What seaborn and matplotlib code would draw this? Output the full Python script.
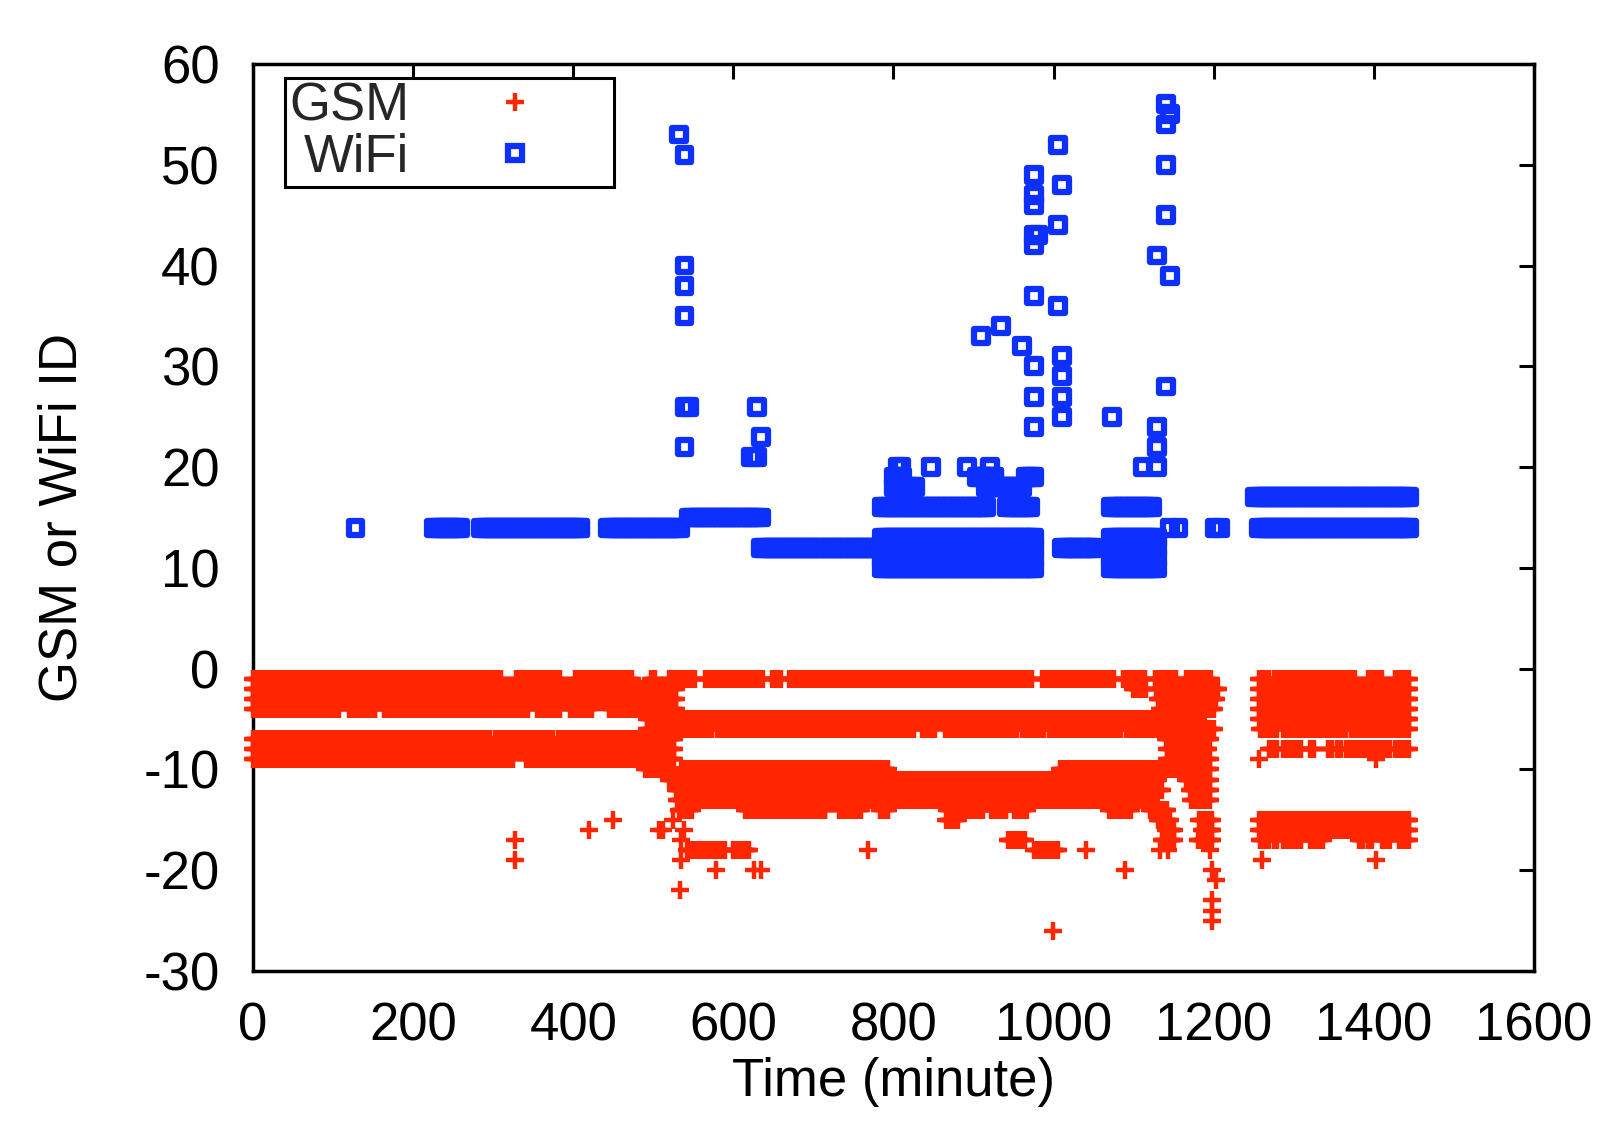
import numpy as np
import pandas as pd
import matplotlib
matplotlib.use("Agg")
import matplotlib.pyplot as plt
import seaborn as sns
from matplotlib.lines import Line2D

# ---------------- data ----------------
# GSM: runs of consecutive minutes observed on one cell ID
gsm_run_id = [-1, -1, -1, -1, -2, -3, -4, -4, -4, -4, -4, -4, -7, -7, -7, -8, -9, -9, -9,
              -1, -1, -1, -1, -1, -1, -5, -6, -6, -6, -6, -6, -6, -6,
              -10, -10, -10, -11, -12, -13,
              -14, -14, -14, -14, -14, -14, -14, -14, -14, -15,
              -18, -18, -17, -18,
              -1, -1, -2, -2, -3, -4, -5, -5, -6, -7, -8, -9, -10, -11, -11, -12, -12, -13,
              -15, -15, -16, -16, -17, -17,
              -1, -1, -1, -1, -2, -3, -4, -5, -6, -6, -6, -6, -6,
              -8, -8, -8, -8, -8, -8, -8, -8, -8, -15, -16,
              -17, -17, -17, -17, -17, -17, -17, -17]
gsm_run_start = [0, 328, 402, 497, 0, 0, 0, 120, 164, 355, 396, 445, 0, 302, 381, 0, 0, 217, 341,
                 519, 564, 648, 670, 986, 1087, 492, 492, 580, 836, 864, 960, 994, 1090,
                 490, 535, 1008, 520, 528, 530,
                 532, 614, 732, 783, 867, 922, 951, 1069, 1120, 866,
                 542, 600, 943, 976,
                 1126, 1165, 1099, 1128, 1130, 1133, 1120, 1162, 1120, 1140, 1142, 1142, 1115, 1125, 1165, 1125, 1170, 1172,
                 1130, 1182, 1140, 1185, 1135, 1180,
                 1257, 1275, 1393, 1426, 1257, 1257, 1257, 1257, 1258, 1286, 1302, 1371, 1398,
                 1269, 1286, 1320, 1343, 1354, 1365, 1382, 1415, 1426, 1257, 1257,
                 1258, 1275, 1286, 1320, 1382, 1393, 1410, 1432]
gsm_run_end = [310, 383, 473, 502, 528, 528, 108, 153, 344, 383, 423, 528, 296, 375, 526, 526, 212, 325, 526,
               552, 637, 659, 973, 1075, 1114, 1120, 573, 825, 852, 954, 988, 1084, 1120,
               525, 793, 1115, 1125, 1125, 1122,
               548, 715, 759, 793, 912, 941, 967, 1097, 1142, 880,
               590, 620, 964, 1005,
               1153, 1197, 1115, 1205, 1203, 1200, 1140, 1180, 1200, 1195, 1193, 1195, 1195, 1130, 1195, 1135, 1195, 1195,
               1145, 1198, 1150, 1198, 1150, 1198,
               1269, 1376, 1410, 1444, 1444, 1444, 1444, 1444, 1279, 1297, 1365, 1393, 1444,
               1279, 1309, 1325, 1348, 1359, 1376, 1410, 1420, 1444, 1444, 1444,
               1269, 1279, 1309, 1336, 1387, 1398, 1420, 1444]
# GSM: isolated observations
gsm_pt_time = [327, 327, 420, 450, 507, 512, 525, 533, 535, 535, 538, 578, 626, 634, 768,
               1040, 1089, 999, 1133, 1143, 1195, 1198, 1203, 1198, 1198, 1198,
               1256, 1403, 1260, 1403]
gsm_pt_id = [-17, -19, -16, -15, -16, -16, -15, -22, -17, -19, -16, -20, -20, -20, -18,
             -18, -20, -26, -18, -18, -18, -20, -21, -23, -24, -25,
             -9, -9, -19, -19]

# WiFi: runs of consecutive minutes on one access point ID
wifi_run_id = [14, 14, 14, 15, 12, 10, 11, 12, 13, 16, 16, 18, 18, 19, 19, 19,
               12, 10, 11, 12, 13, 16, 17, 14]
wifi_run_start = [226, 285, 443, 544, 634, 785, 785, 785, 785, 785, 942, 800, 915, 800, 904, 965,
                  1010, 1072, 1072, 1072, 1072, 1072, 1252, 1257]
wifi_run_end = [258, 409, 533, 634, 785, 975, 975, 975, 975, 915, 971, 827, 960, 811, 926, 976,
                1052, 1129, 1129, 1129, 1129, 1123, 1444, 1444]
# WiFi: isolated observations
wifi_pt_time = [128, 532, 539, 539, 539, 539, 539, 545, 539, 622, 629, 634, 629,
                805, 810, 847, 892, 920, 909, 934, 960,
                976, 976, 976, 976, 980, 976, 976, 976, 976, 976,
                1005, 1005, 1005, 1010, 1010, 1010, 1010, 1010,
                1073, 1111, 1129, 1129, 1129, 1129, 1145, 1156, 1201, 1208,
                1140, 1145, 1140, 1140, 1140, 1145, 1140]
wifi_pt_id = [14, 53, 51, 40, 38, 35, 26, 26, 22, 21, 21, 23, 26,
              20, 20, 20, 20, 20, 33, 34, 32,
              49, 47, 46, 43, 43, 42, 37, 30, 27, 24,
              52, 44, 36, 48, 31, 29, 27, 25,
              25, 20, 20, 22, 24, 41, 14, 14, 14, 14,
              56, 55, 54, 50, 45, 39, 28]

x_ticks = [0, 200, 400, 600, 800, 1000, 1200, 1400, 1600]
y_ticks = [-30, -20, -10, 0, 10, 20, 30, 40, 50, 60]


def expand(ids, starts, ends, step, pt_t, pt_id):
    t_all, i_all = [], []
    for i, a, b in zip(ids, starts, ends):
        t = list(np.arange(a, b + 1, step))
        if t[-1] != b:
            t.append(b)
        t_all += t
        i_all += [i] * len(t)
    t_all += list(pt_t)
    i_all += list(pt_id)
    return pd.DataFrame({"time": t_all, "id": i_all})


gsm = expand(gsm_run_id, gsm_run_start, gsm_run_end, 2, gsm_pt_time, gsm_pt_id)
wifi = expand(wifi_run_id, wifi_run_start, wifi_run_end, 3, wifi_pt_time, wifi_pt_id)

# ---------------- drawing ----------------
sns.set_theme(style="white")
plt.rcParams["font.family"] = ["Liberation Sans", "DejaVu Sans"]

RED = "#ff2600"
BLUE = "#0d30ff"

fig = plt.figure(figsize=(16.06, 11.42), dpi=100)
ax = fig.add_axes([253 / 1606, 1 - 971 / 1142, 1281 / 1606, 907 / 1142])

sns.scatterplot(data=gsm, x="time", y="id", ax=ax, marker="+", color=RED,
                s=169, linewidth=3.2, clip_on=False, legend=False, zorder=3)
sns.scatterplot(data=wifi, x="time", y="id", ax=ax, marker="s", facecolor="none",
                edgecolor=BLUE, s=100, linewidth=4.5, legend=False, zorder=3)

ax.set_xlim(0, 1600)
ax.set_ylim(-30, 60)
ax.set_xticks(x_ticks)
ax.set_yticks(y_ticks)
ax.set_xticklabels([str(v) for v in x_ticks])
ax.set_yticklabels([str(v) for v in y_ticks])
ax.tick_params(axis="both", which="major", direction="in", length=11, width=2.2,
               labelsize=38, colors="black", top=True, right=True, pad=22)
ax.tick_params(axis="y", pad=24)
for sp in ax.spines.values():
    sp.set_visible(True)
    sp.set_color("black")
    sp.set_linewidth(2.5)
ax.grid(False)
ax.set_facecolor("white")

ax.set_xlabel("Time (minute)", fontsize=38, labelpad=4, color="black")
ax.set_ylabel("GSM or WiFi ID", fontsize=38, labelpad=40, color="black")

handles = [
    Line2D([], [], linestyle="none", marker="+", color=RED, markersize=13, markeredgewidth=3.2),
    Line2D([], [], linestyle="none", marker="s", markerfacecolor="none", markeredgecolor=BLUE,
           markersize=10, markeredgewidth=4.5),
]
leg = ax.legend(handles, ["GSM", "WiFi"], loc="upper left", bbox_to_anchor=(0.025, 0.985),
                borderaxespad=0, markerfirst=False, fontsize=38, handlelength=3.6,
                handletextpad=0.2, borderpad=0.08, labelspacing=0.02, fancybox=False,
                frameon=True, edgecolor="black", framealpha=1)
leg.get_frame().set_linewidth(2.2)
leg.set_zorder(5)

fig.savefig("out.png", dpi=100, facecolor="white")
